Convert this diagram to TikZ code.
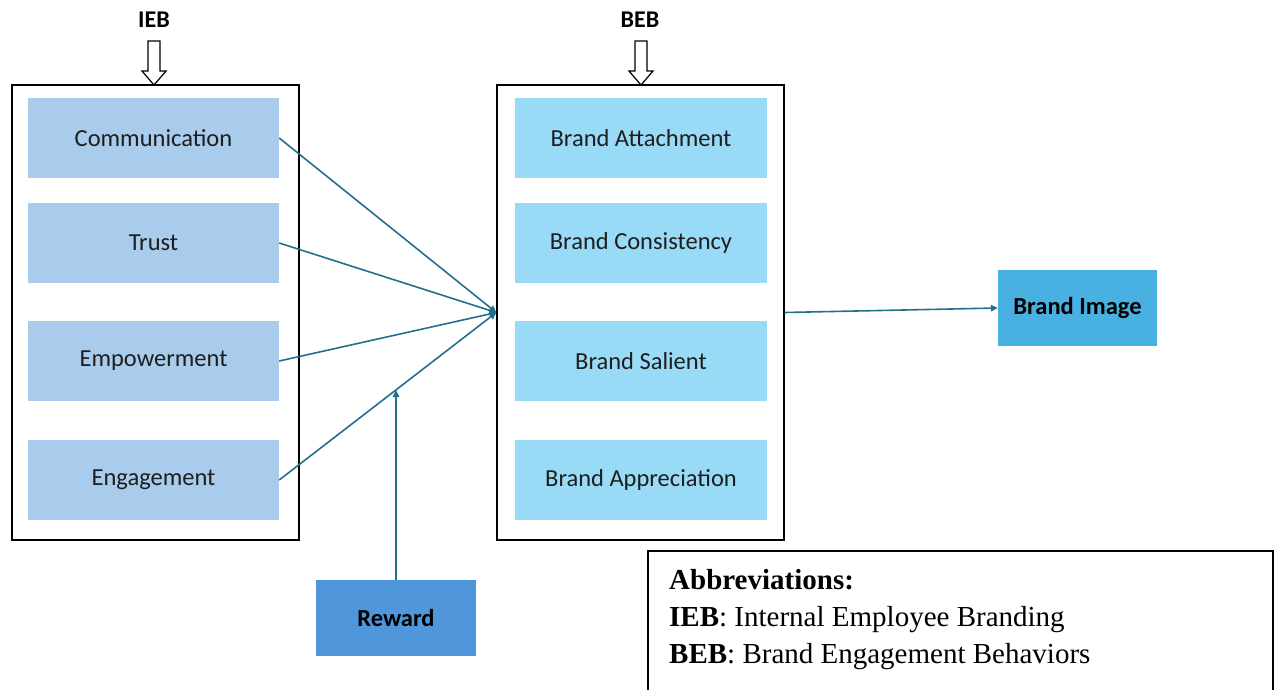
\documentclass[tikz,border=0pt]{standalone}
\usepackage{fontspec}
\setmainfont{Liberation Serif}
\newfontfamily\boxfont{Carlito}
\usetikzlibrary{arrows.meta,calc}

\definecolor{iebfill}{HTML}{A9CBEC}
\definecolor{bebfill}{HTML}{99DBF7}
\definecolor{rewardfill}{HTML}{4F97DA}
\definecolor{imagefill}{HTML}{48B1E1}
\definecolor{linkcol}{HTML}{236F8F}
\definecolor{textdark}{HTML}{1E1E1E}

\begin{document}
\begin{tikzpicture}[x=1pt,y=-1pt,
  frame/.style={draw=black, line width=1.4pt, minimum width=287pt, minimum height=455pt, inner sep=0pt},
  itembox/.style={minimum height=80pt, inner sep=0pt, text=textdark,
    font=\boxfont\fontsize{24.5}{28}\selectfont},
  iebbox/.style={itembox, fill=iebfill, minimum width=251pt},
  bebbox/.style={itembox, fill=bebfill, minimum width=252pt},
  keybox/.style={minimum width=160pt, minimum height=76pt, inner sep=0pt, text=black,
    font=\boxfont\bfseries\fontsize{24.5}{28}\selectfont},
  grouplabel/.style={font=\boxfont\bfseries\fontsize{24}{28}\selectfont, text=black},
  link/.style={draw=linkcol, line width=1.6pt, -{Triangle[length=7pt,width=6.5pt]}},
  hollow/.style={draw=black, line width=1.2pt, fill=white},
  abbr/.style={anchor=base west, inner sep=0pt, font=\fontsize{29}{34}\selectfont, text=black}
]
\useasboundingbox (0,0) rectangle (1277,689);

% group frames
\node[frame] (iebframe) at (155.5,312.5) {};
\node[frame] (bebframe) at (640.5,312.5) {};

% group labels with hollow arrows
\node[grouplabel] (ieblab) at (154,20) {IEB};
\node[grouplabel] (beblab) at (640,20) {BEB};
\foreach \cx in {154,641}{
  \draw[hollow] (\cx-6,41) -- (\cx+6,41) -- (\cx+6,71) -- (\cx+12,71) -- (\cx,85)
    -- (\cx-12,71) -- (\cx-6,71) -- cycle;
}

% internal employee branding items
\node[iebbox] (comm)  at (153.5,138) {Communication};
\node[iebbox] (trust) at (153.5,243) {Trust};
\node[iebbox] (emp)   at (153.5,361) {Empowerment};
\node[iebbox] (eng)   at (153.5,480) {Engagement};

% brand engagement behaviour items
\node[bebbox] (attach)  at (641,138) {Brand Attachment};
\node[bebbox] (consist) at (641,243) {Brand Consistency};
\node[bebbox] (salient) at (641,361) {Brand Salient};
\node[bebbox] (apprec)  at (641,480) {Brand Appreciation};

% moderator and outcome
\node[keybox, fill=rewardfill] (reward) at (396,618) {Reward};
\node[keybox, fill=imagefill, minimum width=159pt] (image) at (1077.5,308) {Brand Image};

% connectors
\coordinate (hub) at (bebframe.west);
\draw[link] (comm.east)  -- (hub);
\draw[link] (trust.east) -- (hub);
\draw[link] (emp.east)   -- (hub);
\draw[link] (eng.east)   -- (hub);
\coordinate (rj) at ($(eng.east)!0.537!(hub)$);
\draw[link] (reward.north) -- (reward.north |- rj);
\draw[link] (bebframe.east) -- (image.west);

% abbreviations
\draw[line width=1.4pt] (648,551) rectangle (1273,700);
\node[abbr] (abtitle) at (669,589) {\textbf{Abbreviations:}};
\node[abbr] (abieb)   at (669,626) {\textbf{IEB}: Internal Employee Branding};
\node[abbr] (abbeb)   at (669,663) {\textbf{BEB}: Brand Engagement Behaviors};
\end{tikzpicture}
\end{document}
